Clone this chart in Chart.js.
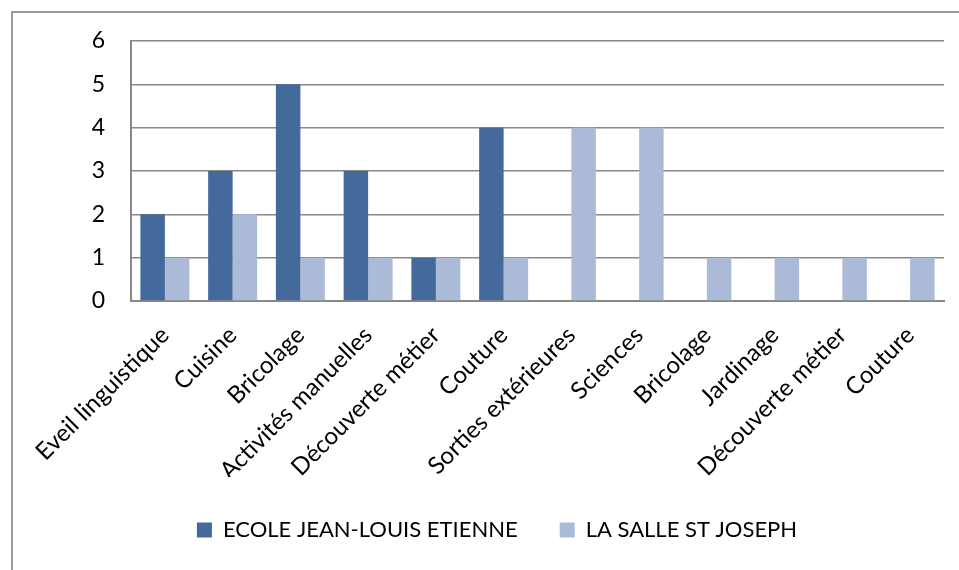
<!DOCTYPE html>
<html>
<head>
<meta charset="utf-8">
<script src="https://cdn.jsdelivr.net/npm/chart.js@4/dist/chart.umd.min.js"></script>
<style>
html,body{margin:0;padding:0;background:#fff;overflow:hidden;}
#frame{position:absolute;left:11px;top:11px;width:1000px;height:1000px;border:2px solid #9a9a9a;}
#wrap{position:absolute;left:0;top:0;width:959px;height:570px;}
</style>
</head>
<body>
<div id="frame"></div>
<div id="wrap"><canvas id="c" width="959" height="570"></canvas></div>
<script>
const categories = ["Eveil linguistique","Cuisine","Bricolage","Activités manuelles","Découverte métier","Couture","Sorties extérieures","Sciences","Bricolage","Jardinage","Découverte métier","Couture"];
const seriesNames = ["ECOLE JEAN-LOUIS ETIENNE","LA SALLE ST JOSEPH"];
const ecoleValues = [2,3,5,3,1,4,0,0,0,0,0,0];
const salleValues = [1,2,1,1,1,1,4,4,1,1,1,1];
const yTicks = [0,1,2,3,4,5,6];

const FONT = "Lato, 'Open Sans', sans-serif";
const chart = new Chart(document.getElementById('c'), {
  type: 'bar',
  data: {
    labels: categories,
    datasets: [
      {label: seriesNames[0], data: ecoleValues, backgroundColor: '#44699b', barPercentage: 1, categoryPercentage: 0.723},
      {label: seriesNames[1], data: salleValues, backgroundColor: '#aabad7', barPercentage: 1, categoryPercentage: 0.723}
    ]
  },
  options: {
    responsive: false,
    animation: false,
    layout: {padding: {left: 50, top: 41, right: 15, bottom: 0}},
    plugins: {
      tooltip: {enabled: false},
      legend: {
        position: 'bottom',
        labels: {
          font: {family: FONT, size: 22},
          color: '#000',
          boxWidth: 15, boxHeight: 15,
          padding: 42
        }
      }
    },
    scales: {
      x: {
        grid: {display: false, drawTicks: false},
        border: {display: true, color: '#888', width: 2},
        ticks: {
          font: {family: FONT, size: 24},
          color: '#000',
          minRotation: 45, maxRotation: 45,
          padding: 20,
          autoSkip: false
        },
        afterFit: s => { s.height = 176; }
      },
      y: {
        min: 0, max: 6,
        afterBuildTicks: s => { s.ticks = yTicks.map(v => ({value: v})); },
        grid: {color: '#888', lineWidth: 1.5, drawTicks: false},
        border: {display: true, color: '#888', width: 2},
        ticks: {font: {family: FONT, size: 23}, color: '#000', padding: 26},
        afterFit: s => { s.width = 81; }
      }
    }
  }
});
const lg = chart.legend;
const origFit = lg.fit;
lg.fit = function() { origFit.call(this); this.height = 93; };
chart.update();
</script>
</body>
</html>
